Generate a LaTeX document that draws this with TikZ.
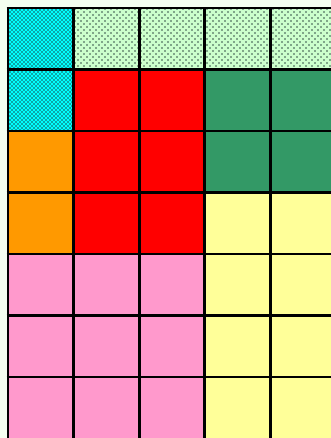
\documentclass[tikz,border=0pt]{standalone}
\usetikzlibrary{patterns}
\definecolor{bg}{HTML}{F4FFF0}
\definecolor{cy}{HTML}{00FFFF}
\definecolor{lg}{HTML}{CCFFCC}
\definecolor{rd}{HTML}{FF0000}
\definecolor{sg}{HTML}{339966}
\definecolor{og}{HTML}{FF9900}
\definecolor{pk}{HTML}{FF99CC}
\definecolor{yl}{HTML}{FFFF99}
\definecolor{dotc}{HTML}{1A3030}
\pgfdeclarepatternformonly{densedots}{\pgfqpoint{-1pt}{-1pt}}{\pgfqpoint{5pt}{5pt}}{\pgfqpoint{4pt}{4pt}}{%
  \pgfpathrectangle{\pgfqpoint{-0.7pt}{-0.7pt}}{\pgfqpoint{1.4pt}{1.4pt}}%
  \pgfpathrectangle{\pgfqpoint{1.3pt}{1.3pt}}{\pgfqpoint{1.4pt}{1.4pt}}%
  \pgfusepath{fill}}
\pgfdeclarepatternformonly{sparsedots}{\pgfqpoint{-1pt}{-1pt}}{\pgfqpoint{7pt}{7pt}}{\pgfqpoint{6pt}{6pt}}{%
  \pgfpathrectangle{\pgfqpoint{-0.7pt}{-0.7pt}}{\pgfqpoint{1.4pt}{1.4pt}}%
  \pgfpathrectangle{\pgfqpoint{2.3pt}{2.3pt}}{\pgfqpoint{1.4pt}{1.4pt}}%
  \pgfusepath{fill}}
\tikzset{gridline/.style={line width=2.8pt, black}}
\begin{document}
\begin{tikzpicture}[x=1pt,y=-1pt]
\def\cw{65.6}\def\ch{61.5}\def\xo{8}\def\yo{8}
\fill[bg] (0,0) rectangle (331,438);
\useasboundingbox (0,0) rectangle (331,438);
\clip (0,0) rectangle (331,438);
\newcommand{\cellfill}[5]{%
  \fill[#5] ({\xo+#1*\cw},{\yo+#2*\ch}) rectangle ({\xo+#3*\cw},{\yo+#4*\ch});}
\cellfill{0}{0}{1}{2}{cy}
\fill[pattern=densedots, pattern color=dotc] ({\xo},{\yo}) rectangle ({\xo+\cw},{\yo+2*\ch});
\cellfill{1}{0}{5}{1}{lg}
\fill[pattern=sparsedots, pattern color=dotc] ({\xo+\cw},{\yo}) rectangle ({\xo+5*\cw},{\yo+\ch});
\cellfill{1}{1}{3}{4}{rd}
\cellfill{3}{1}{5}{3}{sg}
\cellfill{0}{2}{1}{4}{og}
\cellfill{3}{3}{5}{8}{yl}
\cellfill{0}{4}{3}{8}{pk}
\foreach \i in {0,...,5} \draw[gridline] ({\xo+\i*\cw},{\yo}) -- ({\xo+\i*\cw},{\yo+8*\ch});
\foreach \j in {0,...,6} \draw[gridline] ({\xo-1.4},{\yo+\j*\ch}) -- ({\xo+5*\cw},{\yo+\j*\ch});
\end{tikzpicture}
\end{document}
